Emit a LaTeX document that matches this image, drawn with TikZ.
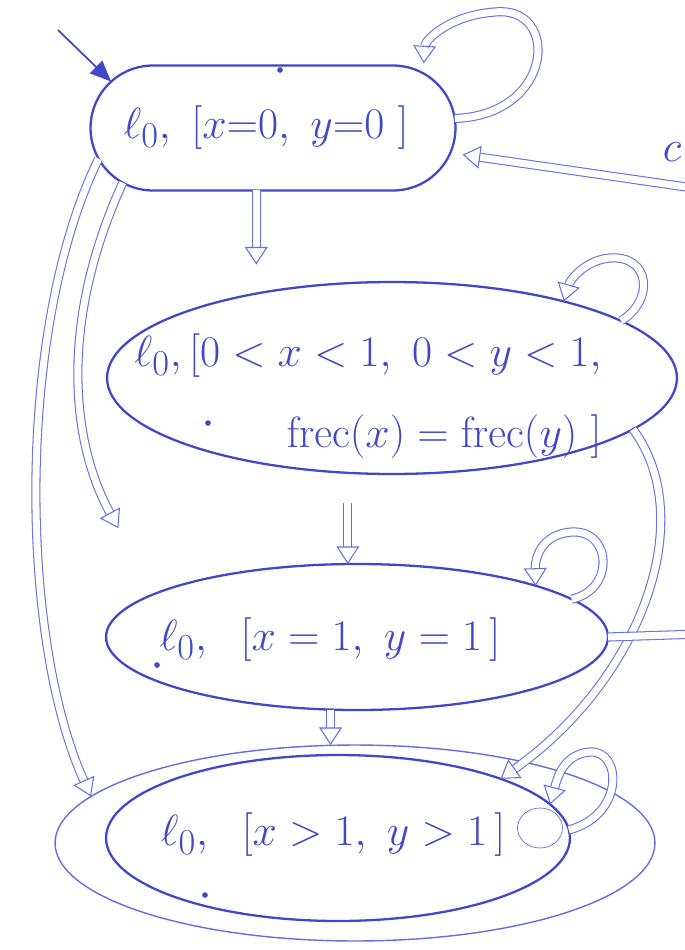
\documentclass[tikz,border=0pt]{standalone}
\usepackage{amsmath,amssymb}
\usepackage{xcolor}
\usepackage{tikz}
\usetikzlibrary{arrows.meta,shapes.geometric,shapes.misc}

\definecolor{ink}{RGB}{62,72,200}
\definecolor{inklight}{RGB}{100,110,228}

\begin{document}
\begin{tikzpicture}[x=0.02cm, y=-0.02cm,
    zone/.style={draw=ink, line width=1.3pt, ellipse, inner sep=0pt, outer sep=0pt},
    lbl/.style={text=ink, font=\Huge, inner sep=0pt},
    dbl/.style={draw=inklight, line width=0.6pt, double=white, double distance=4pt, -{Triangle[open, length=10pt, width=13pt]}}
]
\useasboundingbox (0,0) rectangle (685,950);

\node[zone, shape=rounded rectangle, minimum width=7.3cm, minimum height=2.5cm] (n1) at (273,128) {};
\node[zone, minimum width=11.4cm, minimum height=3.84cm] (n2) at (392,378) {};
\node[zone, minimum width=10.04cm, minimum height=2.92cm] (n3) at (357,637) {};
\node[zone, minimum width=9.28cm, minimum height=3.32cm] (n4) at (338,838) {};
\node[zone, line width=0.8pt, draw=inklight, minimum width=12cm, minimum height=3.92cm] (n4o) at (355,843) {};

\node[lbl] (t1) at (266,128) {$\ell_0,\ [x{=}0,\ y{=}0\ ]$};
\node[lbl, align=right] (t2) at (368,396) {$\ell_0,[0<x<1,\ 0<y<1,$\\[0.55cm] $\mathrm{frec}(x)=\mathrm{frec}(y)\ ]$};
\node[lbl] (t3) at (330,640) {$\ell_0,\ \ [x=1,\ y=1\,]$};
\node[lbl] (t4) at (333,835) {$\ell_0,\ \ [x>1,\ y>1\,]$};
\node[lbl] (clbl) at (672,152) {$c$};

\fill[ink] (280,70) circle[radius=1.6pt];
\fill[ink] (208,423) circle[radius=1.6pt];
\fill[ink] (157,665) circle[radius=1.6pt];
\fill[ink] (205,895) circle[radius=1.6pt];
\draw[inklight, line width=0.4pt] (540,828) ellipse[x radius=0.45cm, y radius=0.4cm];

\coordinate (init) at (58,30);
\coordinate (e7) at (700,634);
\coordinate (e8) at (700,189);

\draw[ink, line width=1pt, -{Triangle[length=12pt, width=10pt]}] (init) -- (n1.164);
\draw[dbl, shorten >=0.35cm] (n1.255) -- (n1.255 |- n2.north);
\draw[dbl, shorten <=0.6cm] (n2.245) -- (n2.245 |- n3.north);
\draw[dbl] (n3.250) -- (n3.250 |- n4o.north);
\draw[dbl, shorten >=1.5cm] (n1.200) .. controls (60,320) and (70,440) .. (n3.168);
\draw[dbl] (n1.190) .. controls (15,330) and (20,640) .. (n4o.170);
\draw[dbl] (n2.-12) .. controls (700,520) and (640,680) .. (n4.20);
\draw[dbl, -] (n3.east) -- (e7);
\draw[dbl, shorten >=0.25cm] (e8) -- (n1.352);

\draw[dbl, shorten >=0.2cm] (n1.3) .. controls (555,115) and (560,5) .. (495,12) .. controls (450,15) and (425,40) .. (n1.20);
\draw[dbl] (n2.14) .. controls (655,300) and (650,255) .. (610,258) .. controls (585,260) and (570,280) .. (n2.24);
\draw[dbl] (n3.10) .. controls (615,590) and (612,530) .. (572,532) .. controls (540,534) and (535,560) .. (n3.16);
\draw[dbl] (n4.2) .. controls (625,815) and (622,750) .. (590,752) .. controls (565,754) and (558,775) .. (n4.9);
\end{tikzpicture}
\end{document}
